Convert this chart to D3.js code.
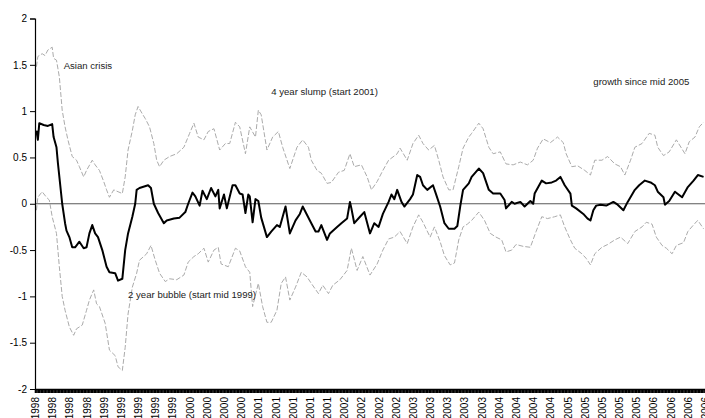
<!DOCTYPE html>
<html>
<head>
<meta charset="utf-8">
<script src="https://cdn.jsdelivr.net/npm/d3@7"></script>
<style>
  body { margin: 0; background: #fff; }
  text { font-family: Arial, "Liberation Sans", sans-serif; }
</style>
</head>
<body>
<div id="chart"></div>
<script>
// weekly series, [week index, value]
var mainSeries = [[1,0.79],[2,0.69],[3,0.87],[6,0.85],[9,0.84],[12,0.86],[13,0.72],[15,0.61],[16,0.44],[19,0],[21,-0.21],[22,-0.29],[24,-0.36],[26,-0.47],[28,-0.47],[31,-0.41],[34,-0.48],[36,-0.47],[38,-0.32],[40,-0.23],[42,-0.32],[44,-0.36],[47,-0.5],[50,-0.68],[52,-0.74],[56,-0.75],[58,-0.83],[61,-0.81],[63,-0.5],[65,-0.32],[68,-0.14],[70,0],[71,0.15],[73,0.17],[79,0.2],[81,0.17],[83,0],[86,-0.1],[90,-0.21],[92,-0.18],[97,-0.16],[101,-0.15],[105,-0.09],[107,0],[110,0.12],[112,0.08],[115,-0.02],[117,0.14],[120,0.05],[123,0.17],[126,0.08],[128,0.15],[129,-0.05],[132,0.1],[134,-0.05],[138,0.2],[140,0.2],[143,0.11],[145,0.1],[147,-0.1],[149,0.1],[150,0.08],[152,-0.2],[154,0.05],[156,0.03],[158,-0.15],[162,-0.36],[165,-0.3],[169,-0.23],[171,-0.25],[175,-0.03],[178,-0.32],[182,-0.18],[185,-0.11],[187,-0.03],[192,-0.18],[196,-0.3],[198,-0.3],[200,-0.23],[204,-0.39],[206,-0.32],[211,-0.25],[214,-0.21],[218,-0.16],[220,0.02],[221,-0.05],[223,-0.21],[227,-0.14],[230,-0.09],[234,-0.32],[237,-0.21],[240,-0.25],[243,-0.11],[247,0.02],[249,0.1],[251,0.05],[253,0.15],[256,0.02],[258,-0.03],[262,0.05],[264,0.1],[267,0.31],[269,0.29],[271,0.2],[274,0.15],[278,0.2],[280,0.11],[283,-0.03],[286,-0.21],[289,-0.27],[293,-0.27],[295,-0.24],[297,-0.03],[299,0.15],[303,0.22],[305,0.29],[310,0.38],[313,0.33],[317,0.15],[320,0.11],[325,0.11],[328,0.04],[329,-0.05],[333,0.02],[335,0],[339,0.02],[342,-0.03],[346,0.03],[348,0],[349,0.11],[354,0.25],[357,0.22],[361,0.23],[364,0.25],[367,0.29],[370,0.2],[374,0.11],[375,-0.02],[378,-0.05],[383,-0.11],[386,-0.16],[388,-0.18],[390,-0.07],[392,-0.02],[395,-0.01],[399,-0.02],[404,0.02],[407,-0.01],[411,-0.07],[414,0.02],[419,0.15],[422,0.2],[426,0.25],[430,0.23],[433,0.2],[435,0.13],[439,0.07],[440,-0.01],[443,0.03],[447,0.13],[452,0.07],[456,0.18],[460,0.25],[463,0.31],[467,0.29]];

var upperBand = [[1,1.48],[2,1.59],[5,1.62],[7,1.6],[9,1.66],[12,1.69],[13,1.57],[15,1.55],[17,1.37],[19,1.01],[21,0.83],[23,0.69],[26,0.51],[29,0.47],[31,0.4],[34,0.29],[36,0.36],[40,0.47],[42,0.42],[45,0.36],[48,0.24],[50,0.15],[52,0.07],[55,0.15],[58,0.13],[61,0.11],[63,0.29],[65,0.58],[68,0.79],[70,0.96],[72,1.05],[75,0.97],[77,0.92],[80,0.83],[83,0.65],[85,0.47],[87,0.4],[90,0.47],[94,0.51],[99,0.54],[104,0.61],[108,0.76],[111,0.87],[114,0.72],[118,0.69],[121,0.78],[125,0.81],[129,0.58],[133,0.65],[136,0.65],[140,0.88],[143,0.83],[147,0.54],[150,0.83],[154,0.72],[156,1.01],[158,0.96],[162,0.58],[166,0.72],[170,0.78],[173,0.61],[178,0.38],[183,0.61],[187,0.69],[191,0.61],[193,0.47],[197,0.36],[200,0.33],[204,0.22],[207,0.23],[212,0.34],[216,0.36],[220,0.54],[223,0.4],[228,0.42],[232,0.29],[235,0.15],[239,0.24],[243,0.36],[247,0.47],[253,0.54],[255,0.6],[260,0.47],[264,0.65],[268,0.74],[271,0.65],[275,0.58],[279,0.63],[282,0.47],[285,0.29],[289,0.15],[292,0.15],[296,0.4],[299,0.6],[303,0.72],[305,0.76],[310,0.87],[313,0.81],[317,0.61],[320,0.54],[325,0.56],[329,0.43],[334,0.42],[339,0.45],[344,0.42],[348,0.47],[351,0.6],[355,0.7],[360,0.66],[365,0.72],[369,0.66],[371,0.54],[375,0.4],[379,0.41],[384,0.36],[388,0.31],[391,0.47],[396,0.47],[400,0.51],[405,0.43],[409,0.4],[412,0.31],[416,0.47],[419,0.61],[424,0.65],[429,0.76],[433,0.74],[435,0.61],[439,0.52],[443,0.56],[448,0.69],[454,0.54],[457,0.67],[461,0.72],[464,0.83],[467,0.88]];

var lowerBand = [[1,-0.07],[2,0.07],[5,0.13],[8,0.07],[10,0.04],[12,-0.14],[15,-0.32],[17,-0.68],[19,-1.0],[21,-1.15],[24,-1.33],[27,-1.42],[29,-1.35],[33,-1.31],[36,-1.15],[38,-1.04],[41,-0.93],[43,-1.08],[45,-1.11],[49,-1.29],[52,-1.58],[56,-1.64],[58,-1.76],[61,-1.8],[63,-1.55],[65,-1.19],[68,-0.9],[71,-0.75],[73,-0.61],[78,-0.54],[81,-0.45],[84,-0.61],[87,-0.75],[91,-0.84],[94,-0.81],[99,-0.82],[104,-0.77],[107,-0.63],[111,-0.57],[114,-0.54],[118,-0.48],[121,-0.63],[125,-0.5],[128,-0.47],[130,-0.65],[135,-0.68],[140,-0.48],[143,-0.51],[147,-0.68],[150,-0.74],[152,-1.11],[156,-0.86],[159,-1.11],[162,-1.28],[165,-1.28],[169,-1.15],[172,-0.86],[175,-0.79],[178,-1.04],[182,-0.9],[186,-0.74],[190,-0.79],[193,-0.86],[198,-0.97],[201,-0.88],[205,-0.97],[208,-0.88],[213,-0.82],[218,-0.72],[221,-0.48],[225,-0.72],[229,-0.57],[234,-0.77],[239,-0.65],[243,-0.5],[247,-0.38],[251,-0.36],[255,-0.3],[260,-0.43],[264,-0.25],[268,-0.12],[271,-0.2],[276,-0.36],[279,-0.25],[283,-0.41],[286,-0.56],[290,-0.66],[293,-0.64],[296,-0.39],[299,-0.25],[302,-0.22],[305,-0.18],[310,-0.09],[314,-0.18],[318,-0.32],[322,-0.36],[326,-0.39],[329,-0.52],[333,-0.5],[336,-0.44],[341,-0.46],[346,-0.47],[350,-0.3],[354,-0.14],[358,-0.16],[363,-0.14],[367,-0.12],[370,-0.25],[374,-0.39],[377,-0.48],[382,-0.54],[385,-0.59],[388,-0.66],[391,-0.54],[396,-0.47],[400,-0.44],[405,-0.39],[409,-0.36],[414,-0.43],[419,-0.3],[424,-0.25],[427,-0.2],[431,-0.22],[434,-0.36],[438,-0.45],[441,-0.48],[445,-0.54],[448,-0.45],[453,-0.42],[456,-0.3],[461,-0.21],[463,-0.18],[467,-0.27]];

// one label every 12 weeks
var xLabels = ["1998","1998","1998","1998","1999","1999","1999","1999","1999","2000","2000","2000","2000","2001","2001","2001","2001","2001","2002","2002","2002","2002","2003","2003","2003","2003","2003","2004","2004","2004","2004","2005","2005","2005","2005","2005","2006","2006","2006","2006"];
var yTicks = [-2, -1.5, -1, -0.5, 0, 0.5, 1, 1.5, 2];
var labelStep = 12;

var notes = [
    {text: "Asian crisis", week: 20, value: 1.49},
    {text: "4 year slump (start 2001)", week: 165, value: 1.21},
    {text: "growth since mid 2005", week: 390, value: 1.32},
    {text: "2 year bubble (start mid 1999)", week: 65, value: -0.98}
];

var svgWidth = 705;
var svgHeight = 418;
var margin = {top: 18.5, right: 0, bottom: 29, left: 35};
var width = svgWidth - margin.left - margin.right;
var height = svgHeight - margin.top - margin.bottom;

var svg = d3.select("#chart")
    .append("svg")
    .attr("width", svgWidth)
    .attr("height", svgHeight);

var chartGroup = svg.append("g")
    .attr("transform", `translate(${margin.left}, ${margin.top})`);

var nWeeks = (xLabels.length - 1) * labelStep;

var xScale = d3.scaleLinear()
    .domain([0, nWeeks])
    .range([0, width]);

var yScale = d3.scaleLinear()
    .domain([-2, 2])
    .range([height, 0]);

// zero line
chartGroup.append("line")
    .attr("x1", 0)
    .attr("x2", width)
    .attr("y1", yScale(0))
    .attr("y2", yScale(0))
    .attr("stroke", "#5a5a5a")
    .attr("stroke-width", 1.2);

var line = d3.line()
    .x(d => xScale(d[0]))
    .y(d => yScale(d[1]));

chartGroup.append("path")
    .datum(upperBand)
    .attr("d", line)
    .attr("fill", "none")
    .attr("stroke", "#ababab")
    .attr("stroke-width", 1)
    .attr("stroke-dasharray", "5,2");

chartGroup.append("path")
    .datum(lowerBand)
    .attr("d", line)
    .attr("fill", "none")
    .attr("stroke", "#ababab")
    .attr("stroke-width", 1)
    .attr("stroke-dasharray", "5,2");

chartGroup.append("path")
    .datum(mainSeries)
    .attr("d", line)
    .attr("fill", "none")
    .attr("stroke", "#000")
    .attr("stroke-width", 2)
    .attr("stroke-linejoin", "round");

// y axis
var yAxis = d3.axisLeft(yScale)
    .tickValues(yTicks)
    .tickSize(5)
    .tickPadding(3)
    .tickFormat(d => d);

chartGroup.append("g")
    .attr("class", "y-axis")
    .call(yAxis)
    .call(g => g.selectAll("text").attr("font-size", 10).attr("fill", "#000").attr("font-family", "Arial, 'Liberation Sans', sans-serif"))
    .call(g => g.select(".domain").attr("stroke-width", 1.2));

// x axis: a tick for every week, a label every 12
var xAxis = d3.axisBottom(xScale)
    .tickValues(d3.range(0, nWeeks + 1))
    .tickSize(4)
    .tickSizeOuter(0)
    .tickFormat(d => d % labelStep === 0 ? xLabels[d / labelStep] : "");

chartGroup.append("g")
    .attr("transform", `translate(0,${height})`)
    .call(xAxis)
    .call(g => g.selectAll(".tick line").attr("stroke-width", 1.6))
    .call(g => g.select(".domain").attr("stroke-width", 1.5))
    .call(g => g.selectAll("text")
        .attr("font-size", 10)
        .attr("fill", "#000")
        .attr("font-family", "Arial, 'Liberation Sans', sans-serif")
        .attr("text-anchor", "end")
        .attr("transform", "rotate(-90)")
        .attr("x", -8)
        .attr("y", 0)
        .attr("dy", "0.35em"));

// annotations
chartGroup.selectAll(".note")
    .data(notes)
    .enter()
    .append("text")
    .attr("class", "note")
    .attr("x", d => xScale(d.week))
    .attr("y", d => yScale(d.value))
    .attr("dy", "0.35em")
    .attr("font-size", 9.6)
    .attr("fill", "#222")
    .text(d => d.text);
</script>
</body>
</html>
